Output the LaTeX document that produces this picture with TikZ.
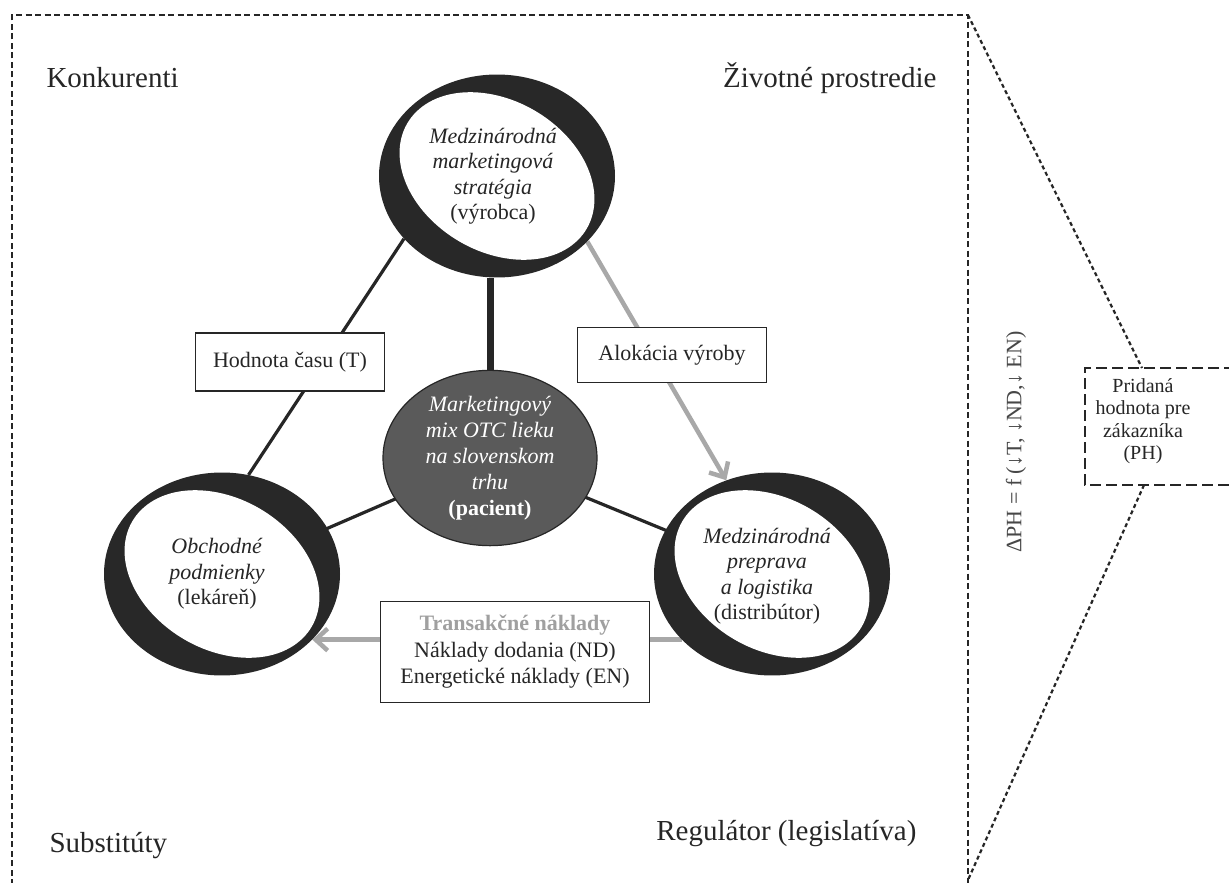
\documentclass[tikz,border=0pt]{standalone}
\usepackage{fontspec}
\setmainfont{Liberation Serif}
\usetikzlibrary{shapes.geometric,arrows.meta,backgrounds}

\definecolor{ink}{HTML}{262626}
\definecolor{ringblack}{HTML}{282828}
\definecolor{hubgray}{HTML}{5A5A5A}
\definecolor{flowgray}{HTML}{A8A8A8}
\definecolor{labelgray}{HTML}{A0A0A0}

\tikzset{
  ringanchor/.style={ellipse, minimum width=236pt, minimum height=203pt, inner sep=0pt, draw=none},
  ringtext/.style={align=center, font=\fontsize{22}{25.5}\selectfont, text=ink},
  labelbox/.style={draw=ink, line width=1.3pt, fill=white, align=center,
                   font=\fontsize{22}{26.5}\selectfont, text=ink, inner sep=0pt},
  corner/.style={font=\fontsize{29}{33}\selectfont, text=ink},
  link/.style={draw=ink, line width=3.2pt},
  spine/.style={draw=ink, line width=7pt},
  flow/.style={draw=flowgray, line width=4.5pt, -{Straight Barb[length=12pt,width=22pt]}},
  framedash/.style={draw=ink, line width=1.3pt, dash pattern=on 6pt off 3.5pt},
  zoomdash/.style={draw=ink, line width=2.2pt, dash pattern=on 4pt off 3pt},
  phdash/.style={draw=ink, line width=1.6pt, dash pattern=on 11pt off 5pt},
}

\begin{document}
\begin{tikzpicture}[x=1pt, y=-1pt]
  \useasboundingbox (0,0) rectangle (1229,883);

  % frame corners and the zoom-out guide points
  \coordinate (frameSW) at (12,885);
  \coordinate (frameNW) at (12,15);
  \coordinate (frameNE) at (968,15);
  \coordinate (frameSE) at (968,885);
  \coordinate (phtop) at (1142,368);
  \coordinate (phbot) at (1144,485);
  \coordinate (zoomfoot) at (968,880);

  % three actor rings: black disc with a tilted white hole
  \begin{scope}[shift={(497,176)}, yscale=0.86]
    \fill[ringblack] (0,0) circle[radius=118pt];
    \begin{scope}[rotate=-45]
      \fill[white] (0,0) ellipse[x radius=110pt, y radius=83pt];
    \end{scope}
  \end{scope}
  \begin{scope}[shift={(222,574)}, yscale=0.86]
    \fill[ringblack] (0,0) circle[radius=118pt];
    \begin{scope}[rotate=-45]
      \fill[white] (0,0) ellipse[x radius=110pt, y radius=83pt];
    \end{scope}
  \end{scope}
  \begin{scope}[shift={(772,574)}, yscale=0.86]
    \fill[ringblack] (0,0) circle[radius=118pt];
    \begin{scope}[rotate=-45]
      \fill[white] (0,0) ellipse[x radius=110pt, y radius=83pt];
    \end{scope}
  \end{scope}

  \node[ringanchor] (mfr) at (497,176) {};
  \node[ringanchor] (pharm) at (222,574) {};
  \node[ringanchor] (dist) at (772,574) {};

  \node[ringtext] (mfrtext) at (493,176)
    {\textit{Medzinárodná}\\\textit{marketingová}\\\textit{stratégia}\\(výrobca)};
  \node[ringtext] (pharmtext) at (217,574)
    {\textit{Obchodné}\\\textit{podmienky}\\(lekáreň)};
  \node[ringtext] (disttext) at (767,576)
    {\textit{Medzinárodná}\\\textit{preprava}\\\textit{a logistika}\\(distribútor)};

  % central marketing mix
  \node[ellipse, fill=hubgray, draw=ink, line width=1.2pt, minimum width=214pt,
        minimum height=168pt, inner sep=0pt, align=center, text=white,
        font=\fontsize{22}{26}\selectfont] (hub) at (490,458)
    {\textit{Marketingový}\\\textit{mix OTC lieku}\\\textit{na slovenskom}\\\textit{trhu}\\\textbf{(pacient)}};

  % labels on the links
  \node[labelbox, minimum width=189pt, minimum height=58pt] (time) at (290,362) {Hodnota času (T)};
  \node[labelbox, minimum width=189pt, minimum height=55pt] (alloc) at (672,355) {Alokácia výroby};
  \node[labelbox, minimum width=269pt, minimum height=101pt] (cost) at (515,652)
    {\textcolor{labelgray}{\textbf{Transakčné náklady}}\\Náklady dodania (ND)\\Energetické náklady (EN)};

  % environment forces in the corners
  \node[corner, anchor=base west] (compet) at (43,88) {Konkurenti};
  \node[corner, anchor=base east] (environ) at (940,88) {Životné prostredie};
  \node[corner, anchor=base west] (subst) at (46,852) {Substitúty};
  \node[corner, anchor=base east] (regul) at (920,840) {Regulátor (legislatíva)};

  % added value for the customer
  \node[rotate=90, font=\fontsize{22}{26}\selectfont, text=ink!85] (formula) at (1016,442)
    {ΔPH = f (↓T, ↓ND,↓ EN)};
  \node[align=center, font=\fontsize{20}{22.5}\selectfont, text=ink] (ph) at (1143,421)
    {Pridaná\\hodnota pre\\zákazníka\\(PH)};
  \coordinate (phNW) at (1085,368);
  \coordinate (phSW) at (1085,485);
  \draw[phdash] (1235,368) -- (phNW) -- (phSW) -- (1235,485);

  \begin{pgfonlayer}{background}
    \fill[white] (0,0) rectangle (1229,883);
    \draw[framedash] (frameSW) -- (frameNW) -- (frameNE) -- (frameSE);
    \draw[zoomdash] (frameNE) -- (phtop);
    \draw[zoomdash] (phbot) -- (zoomfoot);

    \draw[link] (mfr.214.8) -- (pharm.75);
    \draw[spine] (hub.north) -- (hub.north |- mfr.south);
    \draw[link] (hub.center) -- (pharm.center);
    \draw[link] (hub.center) -- (dist.center);
    \draw[flow] (mfr.-36) -- (dist.116);
    \draw[flow] (dist.216.3) -- (pharm.-36.3);
  \end{pgfonlayer}
\end{tikzpicture}
\end{document}
